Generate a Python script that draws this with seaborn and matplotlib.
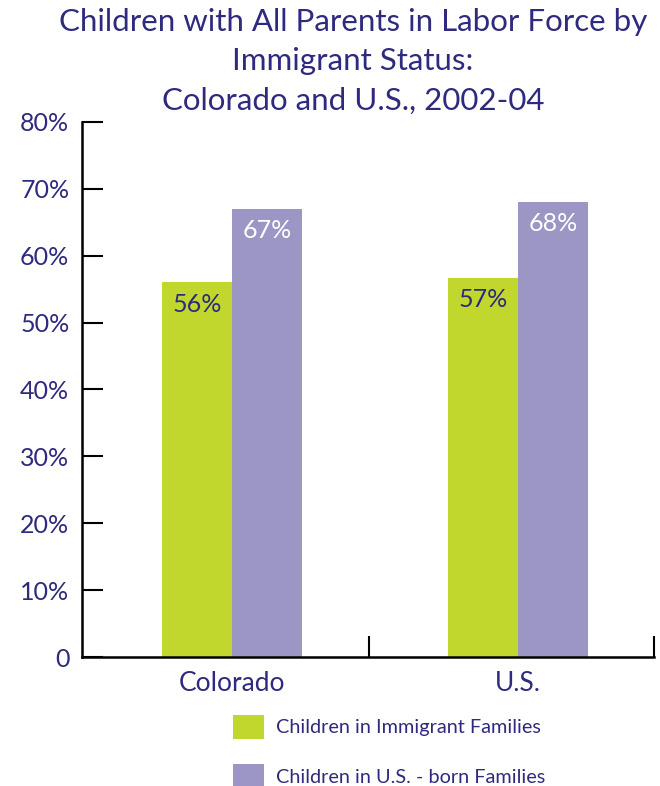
import numpy as np
import pandas as pd
import seaborn as sns
import matplotlib.pyplot as plt
from matplotlib.patches import Patch

regions = ["Colorado", "U.S."]
groups = ["Children in Immigrant Families", "Children in U.S. - born Families"]
immigrant = [56.0, 56.7]
us_born = [67.0, 68.0]
y_ticks = [0, 10, 20, 30, 40, 50, 60, 70, 80]
y_labels = ["0", "10%", "20%", "30%", "40%", "50%", "60%", "70%", "80%"]

green = "#c2d72e"
purple = "#9b96c4"
navy = "#2e2a7e"

df = pd.DataFrame({
    "region": regions * 2,
    "group": [groups[0]] * 2 + [groups[1]] * 2,
    "value": immigrant + us_born,
})

sns.set_style("white")
plt.rcParams['font.family'] = ['Lato', 'DejaVu Sans']

fig = plt.figure(figsize=(6.6, 7.86), dpi=100)
ax = fig.add_axes([0.124, 0.164, 0.867, 0.681])

sns.barplot(data=df, x="region", y="value", hue="group", order=regions,
            hue_order=groups, palette=[green, purple], width=0.49,
            saturation=1, ax=ax, legend=False, edgecolor="none")

# value labels, inside the top of each bar
for container, col in zip(ax.containers, [navy, "white"]):
    labels = ["{:.0f}%".format(v) for v in container.datavalues]
    ax.bar_label(container, labels=labels, label_type="edge", padding=-24,
                 color=col, fontsize=18)

ax.set_ylim(0, 80)
ax.set_xlim(-0.524, 1.475)
ax.set_yticks(y_ticks)
ax.set_yticklabels(y_labels, color=navy, fontsize=18)
ax.set_xticks([0, 1])
ax.set_xticklabels(regions, color=navy, fontsize=19)
ax.set_xticks([0.479, 1.475], minor=True)
ax.tick_params(axis="x", which="major", bottom=True, length=0, pad=10)
ax.tick_params(axis="x", which="minor", bottom=True, direction="in", length=15,
               width=1.5, color="black")
ax.tick_params(axis="y", left=True, direction="in", length=15, width=1.5,
               color="black", pad=9)
ax.set_xlabel("")
ax.set_ylabel("")
sns.despine(ax=ax)
for s in ["left", "bottom"]:
    ax.spines[s].set_color("black")
    ax.spines[s].set_linewidth(1.8)

fig.suptitle("Children with All Parents in Labor Force by\nImmigrant Status:\nColorado and U.S., 2002-04",
             x=0.535, y=0.99, color=navy, fontsize=22.5, linespacing=1.5)

handles = [Patch(facecolor=green, edgecolor="none"), Patch(facecolor=purple, edgecolor="none")]
fig.legend(handles, groups, loc="upper left", bbox_to_anchor=(233 / 660, 1 - 715 / 786),
           frameon=False, fontsize=14.3, labelcolor=navy, handlelength=1.55,
           handleheight=1.45, labelspacing=1.3, handletextpad=0.6,
           borderpad=0, borderaxespad=0)

fig.savefig("out.png", dpi=100)
